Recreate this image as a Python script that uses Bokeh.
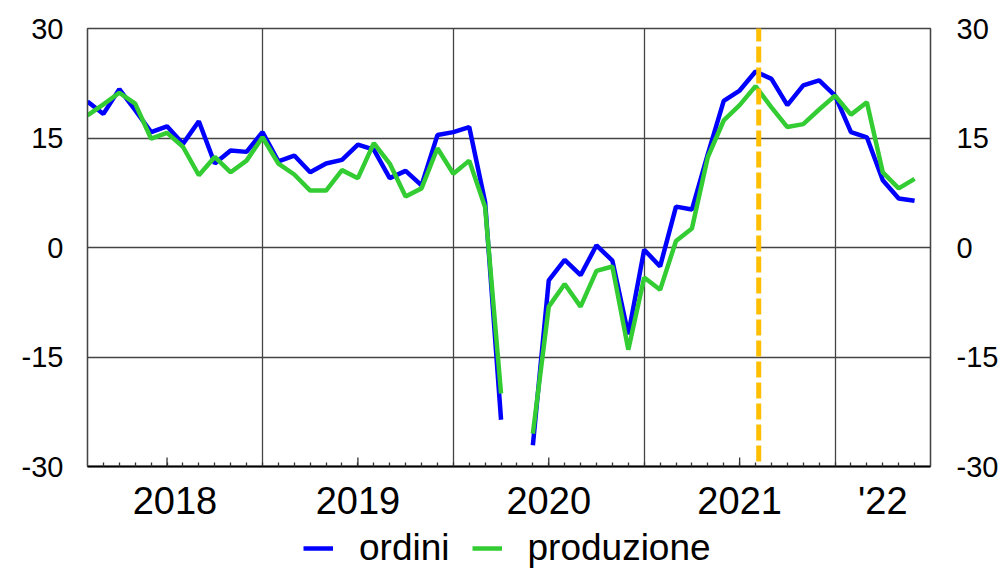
from bokeh.plotting import figure
from bokeh.models import LinearAxis, FixedTicker, Range1d, Legend, LegendItem, Arrow
from bokeh.layouts import column
from bokeh.embed import file_html
from bokeh.resources import INLINE

NaN = float("nan")

# monthly observations (index 0 = first month shown), gap at index 27
ordini = [20.0, 18.3, 21.7, 18.8, 15.8, 16.6, 14.2, 17.3, 11.5, 13.3, 13.1, 15.8,
          11.8, 12.6, 10.3, 11.5, 12.0, 14.1, 13.4, 9.5, 10.5, 8.5, 15.4, 15.8,
          16.5, 6.2, -23.6, NaN, -27.1, -4.5, -1.7, -3.8, 0.3, -1.8, -11.9, -0.3,
          -2.6, 5.6, 5.2, 12.8, 20.1, 21.5, 24.1, 23.1, 19.5, 22.2, 22.9, 20.8,
          15.8, 15.1, 9.2, 6.7, 6.4]
produzione = [18.1, 19.6, 21.2, 19.7, 14.9, 15.7, 13.8, 9.9, 12.4, 10.3, 11.9, 15.1,
              11.5, 10.0, 7.8, 7.8, 10.6, 9.5, 14.3, 11.5, 7.0, 8.1, 13.6, 10.1,
              11.9, 5.5, -20.0, NaN, -25.5, -8.1, -5.0, -8.1, -3.2, -2.6, -14.0, -4.1,
              -5.8, 0.9, 2.6, 12.4, 17.4, 19.5, 22.1, 19.2, 16.5, 16.9, 18.9, 20.8,
              18.2, 19.9, 10.3, 8.1, 9.4]
months = list(range(len(ordini)))

year_labels = ["2018", "2019", "2020", "2021", "'22"]
year_label_pos = [5.5, 17, 29, 41, 50]
mid_year_ticks = [5, 17, 29, 41]
year_boundaries = [11, 23, 35, 47]
y_ticks = [-30, -15, 0, 15, 30]
y_tick_labels = ["-30", "-15", "0", "15", "30"]
event_x = 42.2

FONT = "Liberation Sans"
GRID = "#444444"
TICK = "#333333"
BLUE = "#0000FF"
GREEN = "#33CC33"

p = figure(width=1001, height=524, output_backend="svg", toolbar_location=None,
           x_range=Range1d(0, 53), y_range=Range1d(-30, 30),
           min_border_left=87, min_border_right=71, min_border_top=28, min_border_bottom=58)
p.outline_line_color = GRID
p.outline_line_width = 1.3

# grids
p.xgrid.ticker = FixedTicker(ticks=year_boundaries)
p.xgrid.grid_line_color = GRID
p.xgrid.grid_line_width = 1.3
p.ygrid.ticker = FixedTicker(ticks=y_ticks)
p.ygrid.grid_line_color = GRID
p.ygrid.grid_line_width = 1.3

# bottom axis: month ticks + year labels
xa = p.xaxis[0]
xa.ticker = FixedTicker(ticks=year_label_pos, minor_ticks=months[1:])
xa.major_label_overrides = dict(zip(year_label_pos, year_labels))
xa.major_label_text_font = FONT
xa.major_label_text_font_size = "38px"
xa.major_label_text_color = "black"
xa.major_label_standoff = 13
xa.major_tick_line_color = None
xa.major_tick_in = 0
xa.major_tick_out = 0
xa.minor_tick_in = 4
xa.minor_tick_out = 0
xa.minor_tick_line_color = TICK
xa.minor_tick_line_width = 1.3
xa.axis_line_color = "black"
xa.axis_line_width = 2

# longer ticks at mid-year
tick_len = 9 / 7.3
p.segment(x0=mid_year_ticks, y0=[-30] * len(mid_year_ticks),
          x1=mid_year_ticks, y1=[-30 + tick_len] * len(mid_year_ticks),
          line_color=TICK, line_width=1.3)

# y axes
ya = p.yaxis[0]
yr = LinearAxis()
p.add_layout(yr, "right")
for ax, so in ((ya, 24), (yr, 26)):
    ax.ticker = FixedTicker(ticks=y_ticks)
    ax.major_label_overrides = dict(zip(y_ticks, y_tick_labels))
    ax.major_tick_in = 0
    ax.major_tick_out = 0
    ax.minor_tick_line_color = None
    ax.major_tick_line_color = None
    ax.axis_line_color = GRID
    ax.axis_line_width = 1.3
    ax.major_label_standoff = so
    ax.major_label_text_font = FONT
    ax.major_label_text_font_size = "29px"
    ax.major_label_text_color = "black"

p.line(months, ordini, line_color=BLUE, line_width=4.5)
p.line(months, produzione, line_color=GREEN, line_width=4.5)

ev = Arrow(end=None, x_start=event_x, y_start=-29.3, x_end=event_x, y_end=31.4,
           line_color="#FFBF00", line_width=5, line_dash="16 5")
p.add_layout(ev)

# legend strip under the chart
pl = figure(width=1001, height=45, output_backend="svg", toolbar_location=None,
            x_axis_type=None, y_axis_type=None, min_border=0,
            x_range=Range1d(1000, 1001), y_range=Range1d(0, 1))
pl.outline_line_color = None
l1 = pl.line(months, ordini, line_color=BLUE, line_width=4.5)
l2 = pl.line(months, produzione, line_color=GREEN, line_width=4.5)
legend = Legend(items=[LegendItem(label="ordini", renderers=[l1]),
                       LegendItem(label="produzione", renderers=[l2])],
                location=(216, 0), orientation="horizontal",
                background_fill_alpha=0, border_line_color=None,
                label_text_font=FONT, label_text_font_size="37px",
                label_text_color="black",
                glyph_width=30, glyph_height=30, label_standoff=26, spacing=22,
                padding=0, margin=0)
pl.add_layout(legend, "center")

open("out.html", "w").write(file_html(column(p, pl), INLINE))
